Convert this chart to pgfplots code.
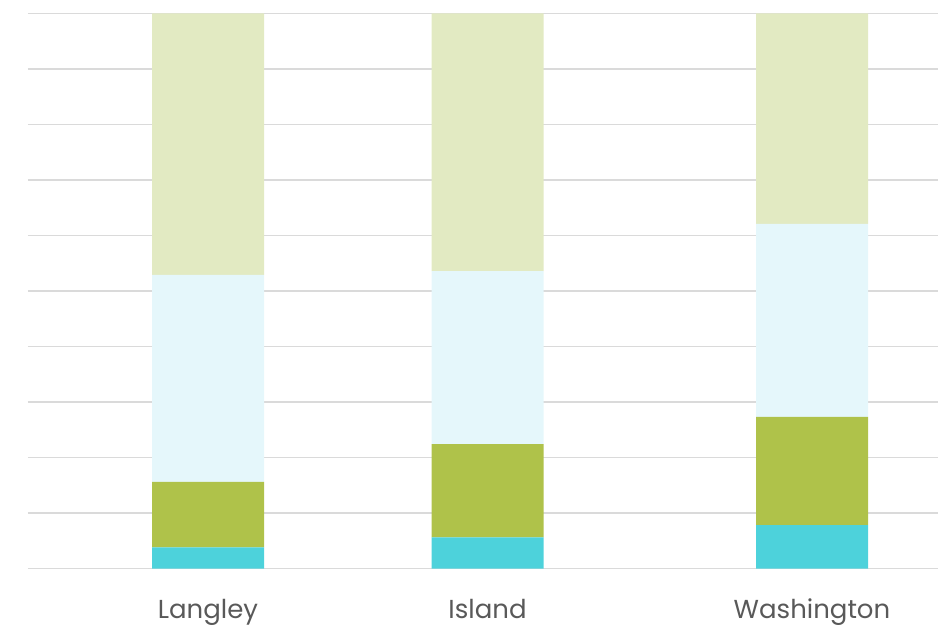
\documentclass[border=0pt]{standalone}
\usepackage{pgfplots}
\pgfplotsset{compat=1.18}
\usepackage{fontspec}
\setmainfont{Poppins}
\definecolor{cyanbar}{HTML}{4DD2DB}
\definecolor{greenbar}{HTML}{AFC24A}
\definecolor{skybar}{HTML}{E5F7FB}
\definecolor{palebar}{HTML}{E2EAC2}
\definecolor{gridgray}{HTML}{DADADA}
\definecolor{labelgray}{HTML}{595959}
\begin{document}
\begin{tikzpicture}
\useasboundingbox (0,0) rectangle (703.5pt,469.5pt);
\begin{axis}[
    at={(21pt,43.125pt)}, anchor=south west,
    scale only axis,
    width=682.5pt, height=416.25pt,
    xmin=28, xmax=938, ymin=0, ymax=100,
    ybar stacked, bar width=112,
    axis line style={draw=none},
    tick style={draw=none},
    ytick={0,10,...,100}, yticklabels={},
    ymajorgrids, major grid style={gridgray, line width=1.2pt},
    xtick={208,487.5,812},
    xticklabels={Langley,Island,Washington},
    xticklabel style={anchor=base, yshift=-37.5pt, text=labelgray, font=\fontsize{19.5}{22}\selectfont},
]
\addplot[fill=cyanbar, draw=none] coordinates {(208,3.8) (487.5,5.6) (812,7.8)};
\addplot[fill=greenbar, draw=none] coordinates {(208,11.8) (487.5,16.8) (812,19.5)};
\addplot[fill=skybar, draw=none] coordinates {(208,37.3) (487.5,31.2) (812,34.8)};
\addplot[fill=palebar, draw=none] coordinates {(208,47.1) (487.5,46.4) (812,37.9)};
\end{axis}
\end{tikzpicture}
\end{document}
